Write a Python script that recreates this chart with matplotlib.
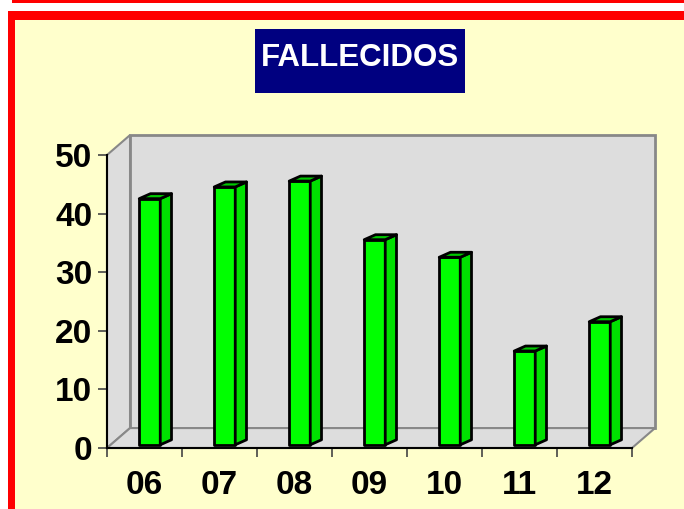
import matplotlib.pyplot as plt
from matplotlib.patches import Rectangle, Polygon

plt.rcParams['font.family'] = ['Liberation Sans', 'DejaVu Sans']

# datos
years = ['06', '07', '08', '09', '10', '11', '12']
fallecidos = [42, 44, 45, 35, 32, 16, 21]
y_ticks = [0, 10, 20, 30, 40, 50]
title = 'FALLECIDOS'

W, H = 684, 509

# efecto 3D (en unidades de datos)
DX, DY = 0.307, 3.4        # profundidad de la pared
BAR_OFF, BAR_W = 0.43, 0.28
SX, SY = 0.15, 0.85        # profundidad de la barra
BASE = 0.55

FRONT = '#00FF00'
SIDE = '#00E000'
TOP = '#00C800'
WALL = '#DDDDDD'
WALL_EDGE = '#888888'


def fig_rect(x0, y0, x1, y1, color):
    # rectangulo en pixeles de la figura (origen arriba-izquierda)
    return Rectangle((x0 / W, 1 - y1 / H), (x1 - x0) / W, (y1 - y0) / H,
                     transform=fig.transFigure, facecolor=color,
                     edgecolor='none', zorder=-10)


fig = plt.figure(figsize=(W / 100, H / 100), dpi=100)
fig.patch.set_facecolor('white')

# marco rojo y fondo amarillo
fig.patches.append(fig_rect(12, 0, W + 5, 3, '#FF0000'))
fig.patches.append(fig_rect(8, 11, W + 5, H + 5, '#FF0000'))
fig.patches.append(fig_rect(15, 20, W + 5, H + 5, '#FFFFCC'))

# titulo
fig.patches.append(fig_rect(255, 29, 465, 93, '#000080'))
fig.text(360 / W, 1 - 58 / H, title, color='white', fontsize=22.5,
         fontweight='bold', ha='center', va='center')

ax = fig.add_axes([107 / W, 1 - 448 / H, 525 / W, 293 / H])
ax.patch.set_visible(False)
ax.set_xlim(0, len(years))
ax.set_ylim(0, 50)

# paredes
n = len(years)
ax.add_patch(Rectangle((DX, DY), n, 50, facecolor=WALL, edgecolor=WALL_EDGE,
                       lw=2, clip_on=False, zorder=0.5))
ax.add_patch(Polygon([(0, 0), (0, 50), (DX, 50 + DY), (DX, DY)],
                     facecolor=WALL, edgecolor=WALL_EDGE, lw=1.5,
                     clip_on=False, zorder=0.6))
ax.add_patch(Polygon([(0, 0), (n, 0), (n + DX, DY), (DX, DY)],
                     facecolor=WALL, edgecolor=WALL_EDGE, lw=1.5,
                     clip_on=False, zorder=0.6))

# barras
for i, v in enumerate(fallecidos):
    x0 = i + BAR_OFF
    x1 = x0 + BAR_W
    top = BASE + v
    ax.add_patch(Rectangle((x0, BASE), BAR_W, v, facecolor=FRONT,
                           edgecolor='black', lw=2, joinstyle='round',
                           clip_on=False, zorder=3))
    ax.add_patch(Polygon([(x1, BASE), (x1, top), (x1 + SX, top + SY),
                          (x1 + SX, BASE + SY)], facecolor=SIDE,
                         edgecolor='black', lw=2, joinstyle='round',
                         clip_on=False, zorder=3))
    ax.add_patch(Polygon([(x0, top), (x1, top), (x1 + SX, top + SY),
                          (x0 + SX, top + SY)], facecolor=TOP,
                         edgecolor='black', lw=2, joinstyle='round',
                         clip_on=False, zorder=3.1))

# ejes
for s in ['top', 'right']:
    ax.spines[s].set_visible(False)
for s in ['left', 'bottom']:
    ax.spines[s].set_color('black')
    ax.spines[s].set_linewidth(1.5)
    ax.spines[s].set_zorder(2)

ax.set_yticks(y_ticks)
ax.set_yticklabels([str(t) for t in y_ticks], fontsize=24, fontweight='bold')
ax.tick_params(axis='y', length=6.5, width=1.2, color='#444444', pad=4)

ax.set_xticks(range(n + 1))
ax.set_xticklabels([])
ax.set_xticks([i + 0.5 for i in range(n)], minor=True)
ax.set_xticklabels(years, minor=True, fontsize=24, fontweight='bold')
ax.tick_params(axis='x', which='major', length=6.5, width=1.2, color='#444444')
ax.tick_params(axis='x', which='minor', length=0, pad=16)

fig.savefig('out.png', dpi=100, facecolor=fig.get_facecolor())
